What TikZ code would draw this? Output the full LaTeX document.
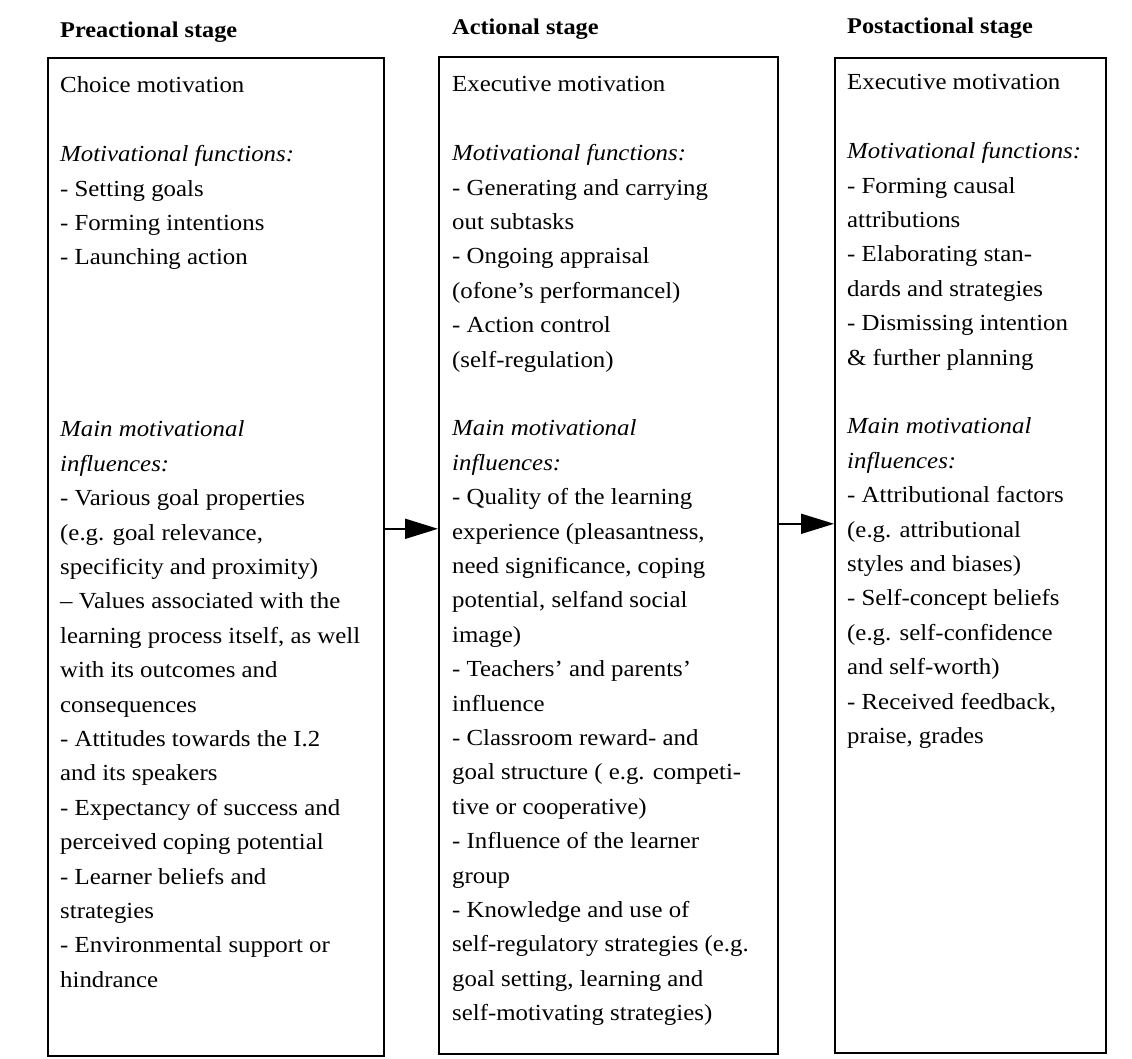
\documentclass[tikz,border=0pt]{standalone}
\usepackage{fontspec}
\setmainfont[FakeStretch=1.08]{Liberation Serif}
\usetikzlibrary{arrows.meta}
\begin{document}
\begin{tikzpicture}[x=1pt,y=-1pt,
  box/.style={draw,line width=1.6pt,inner sep=0pt,anchor=north west},
  body/.style={anchor=base west,inner sep=0pt},
  head/.style={anchor=base west,inner sep=0pt,font=\fontsize{22.5}{27}\selectfont\bfseries},
  arr/.style={line width=1.8pt,-{Triangle[length=33pt,width=20pt]}}]
\useasboundingbox (0,0) rectangle (1132,1059);
\fill[white] (0,0) rectangle (1132,1059);
% boxes
\node[box,minimum width=336pt,minimum height=998pt] (b1) at (47,57) {};
\node[box,minimum width=339pt,minimum height=997pt] (b2) at (438,56) {};
\node[box,minimum width=271pt,minimum height=995pt] (b3) at (834,57) {};
% headers
\node[head] (h1) at (60,38) {Preactional stage};
\node[head] (h2) at (452,35) {Actional stage};
\node[head] (h3) at (847,34) {Postactional stage};
% texts
\node[body] (t1) at (60,93) {\parbox[t]{400pt}{\fontsize{23}{34.4}\selectfont\raggedright
Choice motivation\\[34.4pt]
\textit{Motivational functions:}\\
- Setting goals\\
- Forming intentions\\
- Launching action\\[137.6pt]
\textit{Main motivational}\\
\textit{influences:}\\
- Various goal properties\\
(e.g. goal relevance,\\
specificity and proximity)\\
– Values associated with the\\
learning process itself, as well\\
with its outcomes and\\
consequences\\
- Attitudes towards the I.2\\
and its speakers\\
- Expectancy of success and\\
perceived coping potential\\
- Learner beliefs and\\
strategies\\
- Environmental support or\\
hindrance}};
\node[body] (t2) at (452,92) {\parbox[t]{400pt}{\fontsize{23}{34.4}\selectfont\raggedright
Executive motivation\\[34.4pt]
\textit{Motivational functions:}\\
- Generating and carrying\\
out subtasks\\
- Ongoing appraisal\\
(ofone's performancel)\\
- Action control\\
(self-regulation)\\[34.4pt]
\textit{Main motivational}\\
\textit{influences:}\\
- Quality of the learning\\
experience (pleasantness,\\
need significance, coping\\
potential, selfand social\\
image)\\
- Teachers' and parents'\\
influence\\
- Classroom reward- and\\
goal structure ( e.g. competi-\\
tive or cooperative)\\
- Influence of the learner\\
group\\
- Knowledge and use of\\
self-regulatory strategies (e.g.\\
goal setting, learning and\\
self-motivating strategies)}};
\node[body] (t3) at (847,90) {\parbox[t]{400pt}{\fontsize{23}{34.4}\selectfont\raggedright
Executive motivation\\[34.4pt]
\textit{Motivational functions:}\\
- Forming causal\\
attributions\\
- Elaborating stan-\\
dards and strategies\\
- Dismissing intention\\
\& further planning\\[34.4pt]
\textit{Main motivational}\\
\textit{influences:}\\
- Attributional factors\\
(e.g. attributional\\
styles and biases)\\
- Self-concept beliefs\\
(e.g. self-confidence\\
and self-worth)\\
- Received feedback,\\
praise, grades}};
% arrows
\draw[arr] ([yshift=28pt]b1.east) -- ([yshift=26.5pt]b2.west);
\draw[arr] ([yshift=31.5pt]b2.east) -- ([yshift=31.5pt]b3.west);
\end{tikzpicture}
\end{document}
